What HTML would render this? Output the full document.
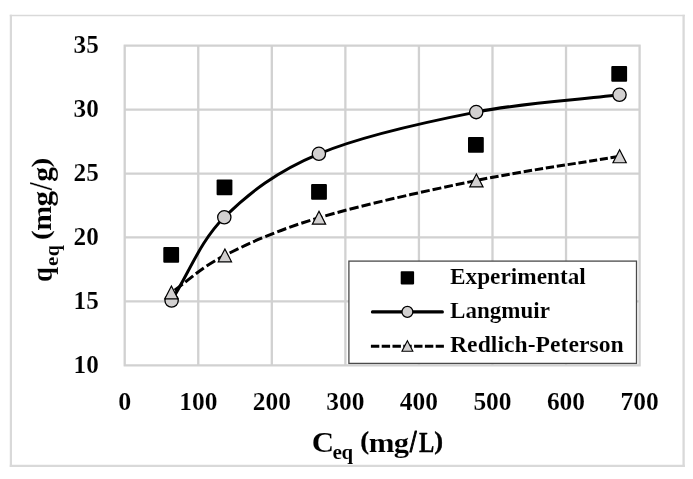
<!DOCTYPE html>
<html><head><meta charset="utf-8"><title>chart</title>
<style>html,body{margin:0;padding:0;background:#fff}svg{display:block;will-change:transform}</style></head>
<body>
<svg width="693" height="479" viewBox="0 0 693 479">
<rect x="0" y="0" width="693" height="479" fill="#fff"/>
<path d="M9.8 15.55H684.8" stroke="#d9d9d9" stroke-width="1.5" fill="none"/>
<path d="M9.8 465.9H684.8" stroke="#d9d9d9" stroke-width="2.2" fill="none"/>
<path d="M10.9 14.8V467" stroke="#d9d9d9" stroke-width="2.2" fill="none"/>
<path d="M683.6 14.8V467" stroke="#d9d9d9" stroke-width="2.3" fill="none"/>
<path d="M124.70 44.70V366.30M198.26 44.70V366.30M271.81 44.70V366.30M345.37 44.70V366.30M418.93 44.70V366.30M492.49 44.70V366.30M566.04 44.70V366.30M639.60 44.70V366.30M123.70 45.70H640.60M123.70 109.62H640.60M123.70 173.54H640.60M123.70 237.46H640.60M123.70 301.38H640.60M123.70 365.30H640.60" fill="none" stroke="#d1d1d1" stroke-width="2.3"/>
<path id="lang" d="M171.60 300.50C189.17 272.77 199.75 241.75 224.30 217.30C248.85 192.85 276.92 171.33 318.90 153.80C360.88 136.27 426.10 121.93 476.20 112.10C526.30 102.27 571.73 100.57 619.50 94.80" fill="none" stroke="#000" stroke-width="3.0" stroke-linecap="round"/>
<path id="rp" d="M171.40 292.50C189.23 280.13 200.30 267.87 224.90 255.40C249.50 242.93 277.08 230.18 319.00 217.70C360.92 205.22 426.30 190.73 476.40 180.50C526.50 170.27 571.87 164.37 619.60 156.30" fill="none" stroke="#000" stroke-width="3.0" stroke-dasharray="0 3.89 10.12 3.37 10.07 3.36 10.01 3.34 9.96 3.32 9.9 3.3 9.84 3.28 9.79 3.26 9.73 3.24 9.68 3.23 9.62 3.21 9.57 3.19 9.51 3.17 9.46 3.15 9.4 3.13 9.34 3.11 9.29 3.1 9.23 3.08 9.18 3.06 9.12 3.04 9.07 3.02 9.01 3.0 8.95 2.98 8.9 2.97 8.84 2.95 8.79 2.93 8.73 2.91 8.68 2.89 8.62 2.87 8.57 2.86 8.51 2.84 8.45 2.82 8.4 2.8 8.34 2.78 8.29 2.76 8.23 2.74 8.18 2.73 8.12 2.71 8.06 2.69 8.01 2.67 7.95 2.65 7.9 2.63 7.84 2.61 7.79 2.6"/>
<rect x="163.30" y="247.00" width="15.8" height="15.8" rx="1" fill="#000"/>
<rect x="216.60" y="179.50" width="15.8" height="15.8" rx="1" fill="#000"/>
<rect x="311.10" y="183.90" width="15.8" height="15.8" rx="1" fill="#000"/>
<rect x="468.00" y="137.00" width="15.8" height="15.8" rx="1" fill="#000"/>
<rect x="611.30" y="66.00" width="15.8" height="15.8" rx="1" fill="#000"/>
<circle cx="171.6" cy="300.5" r="6.65" fill="#d2d0d0" stroke="#000" stroke-width="1.3"/>
<circle cx="224.3" cy="217.3" r="6.65" fill="#d2d0d0" stroke="#000" stroke-width="1.3"/>
<circle cx="318.9" cy="153.8" r="6.65" fill="#d2d0d0" stroke="#000" stroke-width="1.3"/>
<circle cx="476.2" cy="112.1" r="6.65" fill="#d2d0d0" stroke="#000" stroke-width="1.3"/>
<circle cx="619.5" cy="94.8" r="6.65" fill="#d2d0d0" stroke="#000" stroke-width="1.3"/>
<path d="M171.40 286.05L178.05 298.95H164.75Z" fill="#d2d0d0" stroke="#000" stroke-width="1.2" stroke-linejoin="miter"/>
<path d="M224.90 248.95L231.55 261.85H218.25Z" fill="#d2d0d0" stroke="#000" stroke-width="1.2" stroke-linejoin="miter"/>
<path d="M319.00 211.25L325.65 224.15H312.35Z" fill="#d2d0d0" stroke="#000" stroke-width="1.2" stroke-linejoin="miter"/>
<path d="M476.40 174.05L483.05 186.95H469.75Z" fill="#d2d0d0" stroke="#000" stroke-width="1.2" stroke-linejoin="miter"/>
<path d="M619.60 149.85L626.25 162.75H612.95Z" fill="#d2d0d0" stroke="#000" stroke-width="1.2" stroke-linejoin="miter"/>
<rect x="348.9" y="261.1" width="287.6" height="102.3" fill="#fff" stroke="#4a4a4a" stroke-width="1.3"/>
<rect x="400.7" y="271.2" width="13.4" height="13.2" rx="0.8" fill="#000"/>
<path d="M372.4 311.9H442.4" stroke="#000" stroke-width="3.1" stroke-linecap="round"/>
<circle cx="407.4" cy="311.9" r="5.45" fill="#d2d0d0" stroke="#000" stroke-width="1.25"/>
<path d="M370.9 346.2H443.9" stroke="#000" stroke-width="3.0" stroke-dasharray="8.4 2.4"/>
<path d="M407.40 340.75L412.85 351.25H401.95Z" fill="#d2d0d0" stroke="#000" stroke-width="1.1" stroke-linejoin="miter"/>
<text x="450.0" y="284.0" font-size="23" text-anchor="start" textLength="135.8" lengthAdjust="spacingAndGlyphs" font-family="Liberation Serif, serif" font-weight="bold" fill="#000" stroke="#fff" stroke-width="0.12" paint-order="fill stroke" >Experimental</text>
<text x="450.0" y="318.1" font-size="23" text-anchor="start" textLength="100.0" lengthAdjust="spacingAndGlyphs" font-family="Liberation Serif, serif" font-weight="bold" fill="#000" stroke="#fff" stroke-width="0.12" paint-order="fill stroke" >Langmuir</text>
<text x="450.0" y="352.0" font-size="23" text-anchor="start" textLength="173.8" lengthAdjust="spacingAndGlyphs" font-family="Liberation Serif, serif" font-weight="bold" fill="#000" stroke="#fff" stroke-width="0.12" paint-order="fill stroke" >Redlich-Peterson</text>
<text x="73.6" y="53.1" font-size="24.4" text-anchor="start" textLength="25.2" lengthAdjust="spacingAndGlyphs" font-family="Liberation Serif, serif" font-weight="bold" fill="#000" stroke="#fff" stroke-width="0.12" paint-order="fill stroke" >35</text>
<text x="73.6" y="117.0" font-size="24.4" text-anchor="start" textLength="25.2" lengthAdjust="spacingAndGlyphs" font-family="Liberation Serif, serif" font-weight="bold" fill="#000" stroke="#fff" stroke-width="0.12" paint-order="fill stroke" >30</text>
<text x="73.6" y="180.9" font-size="24.4" text-anchor="start" textLength="25.2" lengthAdjust="spacingAndGlyphs" font-family="Liberation Serif, serif" font-weight="bold" fill="#000" stroke="#fff" stroke-width="0.12" paint-order="fill stroke" >25</text>
<text x="73.6" y="244.9" font-size="24.4" text-anchor="start" textLength="25.2" lengthAdjust="spacingAndGlyphs" font-family="Liberation Serif, serif" font-weight="bold" fill="#000" stroke="#fff" stroke-width="0.12" paint-order="fill stroke" >20</text>
<text x="73.6" y="308.8" font-size="24.4" text-anchor="start" textLength="25.2" lengthAdjust="spacingAndGlyphs" font-family="Liberation Serif, serif" font-weight="bold" fill="#000" stroke="#fff" stroke-width="0.12" paint-order="fill stroke" >15</text>
<text x="73.6" y="372.7" font-size="24.4" text-anchor="start" textLength="25.2" lengthAdjust="spacingAndGlyphs" font-family="Liberation Serif, serif" font-weight="bold" fill="#000" stroke="#fff" stroke-width="0.12" paint-order="fill stroke" >10</text>
<text x="118.2" y="409.7" font-size="24.4" text-anchor="start" textLength="13.0" lengthAdjust="spacingAndGlyphs" font-family="Liberation Serif, serif" font-weight="bold" fill="#000" stroke="#fff" stroke-width="0.12" paint-order="fill stroke" >0</text>
<text x="179.2" y="409.7" font-size="24.4" text-anchor="start" textLength="38.2" lengthAdjust="spacingAndGlyphs" font-family="Liberation Serif, serif" font-weight="bold" fill="#000" stroke="#fff" stroke-width="0.12" paint-order="fill stroke" >100</text>
<text x="252.7" y="409.7" font-size="24.4" text-anchor="start" textLength="38.2" lengthAdjust="spacingAndGlyphs" font-family="Liberation Serif, serif" font-weight="bold" fill="#000" stroke="#fff" stroke-width="0.12" paint-order="fill stroke" >200</text>
<text x="326.3" y="409.7" font-size="24.4" text-anchor="start" textLength="38.2" lengthAdjust="spacingAndGlyphs" font-family="Liberation Serif, serif" font-weight="bold" fill="#000" stroke="#fff" stroke-width="0.12" paint-order="fill stroke" >300</text>
<text x="399.8" y="409.7" font-size="24.4" text-anchor="start" textLength="38.2" lengthAdjust="spacingAndGlyphs" font-family="Liberation Serif, serif" font-weight="bold" fill="#000" stroke="#fff" stroke-width="0.12" paint-order="fill stroke" >400</text>
<text x="473.4" y="409.7" font-size="24.4" text-anchor="start" textLength="38.2" lengthAdjust="spacingAndGlyphs" font-family="Liberation Serif, serif" font-weight="bold" fill="#000" stroke="#fff" stroke-width="0.12" paint-order="fill stroke" >500</text>
<text x="546.9" y="409.7" font-size="24.4" text-anchor="start" textLength="38.2" lengthAdjust="spacingAndGlyphs" font-family="Liberation Serif, serif" font-weight="bold" fill="#000" stroke="#fff" stroke-width="0.12" paint-order="fill stroke" >600</text>
<text x="620.5" y="409.7" font-size="24.4" text-anchor="start" textLength="38.2" lengthAdjust="spacingAndGlyphs" font-family="Liberation Serif, serif" font-weight="bold" fill="#000" stroke="#fff" stroke-width="0.12" paint-order="fill stroke" >700</text>
<text transform="translate(311.69 452.00) scale(0.3098 0.3021)" x="0" y="0" font-size="100" font-family="Liberation Serif, serif" font-weight="bold" fill="#000" stroke="#fff" stroke-width="0.33" stroke-linejoin="round" paint-order="fill stroke">C</text>
<text transform="translate(332.47 458.61) scale(0.2137 0.2023)" x="0" y="0" font-size="100" font-family="Liberation Serif, serif" font-weight="bold" fill="#000" stroke="#fff" stroke-width="0.48" stroke-linejoin="round" paint-order="fill stroke">e</text>
<text transform="translate(341.44 459.15) scale(0.2095 0.2090)" x="0" y="0" font-size="100" font-family="Liberation Serif, serif" font-weight="bold" fill="#000" stroke="#fff" stroke-width="0.48" stroke-linejoin="round" paint-order="fill stroke">q</text>
<text transform="translate(360.39 448.91) scale(0.2531 0.2581)" x="0" y="0" font-size="100" font-family="Liberation Serif, serif" font-weight="bold" fill="#000" stroke="#000" stroke-width="1.57" stroke-linejoin="round" paint-order="fill stroke">(</text>
<text transform="translate(368.67 451.70) scale(0.3092 0.2823)" x="0" y="0" font-size="100" font-family="Liberation Serif, serif" font-weight="bold" fill="#000" stroke="#fff" stroke-width="0.34" stroke-linejoin="round" paint-order="fill stroke">m</text>
<text transform="translate(393.79 452.39) scale(0.3061 0.2725)" x="0" y="0" font-size="100" font-family="Liberation Serif, serif" font-weight="bold" fill="#000" stroke="#fff" stroke-width="0.35" stroke-linejoin="round" paint-order="fill stroke">g</text>
<text transform="translate(409.93 451.70) scale(0.2317 0.3097)" x="0" y="0" font-size="100" font-family="Liberation Serif, serif" font-weight="bold" fill="#000" stroke="#000" stroke-width="3.73" stroke-linejoin="round" paint-order="fill stroke">/</text>
<text transform="translate(418.96 451.55) scale(0.2287 0.2948)" x="0" y="0" font-size="100" font-family="Liberation Serif, serif" font-weight="bold" fill="#000" stroke="#000" stroke-width="1.16" stroke-linejoin="round" paint-order="fill stroke">L</text>
<text transform="translate(434.35 448.91) scale(0.2648 0.2581)" x="0" y="0" font-size="100" font-family="Liberation Serif, serif" font-weight="bold" fill="#000" stroke="#000" stroke-width="1.53" stroke-linejoin="round" paint-order="fill stroke">)</text>
<text transform="translate(52.13 281.90) rotate(-90) scale(0.2688 0.3041)" x="0" y="0" font-size="100" font-family="Liberation Serif, serif" font-weight="bold" fill="#000" stroke="#fff" stroke-width="0.35" stroke-linejoin="round" paint-order="fill stroke">q</text>
<text transform="translate(58.57 256.34) rotate(-90) scale(0.2036 0.2032)" x="0" y="0" font-size="100" font-family="Liberation Serif, serif" font-weight="bold" fill="#000" stroke="#fff" stroke-width="0.49" stroke-linejoin="round" paint-order="fill stroke">q</text>
<text transform="translate(58.02 266.11) rotate(-90) scale(0.2084 0.1960)" x="0" y="0" font-size="100" font-family="Liberation Serif, serif" font-weight="bold" fill="#000" stroke="#fff" stroke-width="0.49" stroke-linejoin="round" paint-order="fill stroke">e</text>
<text transform="translate(48.68 239.98) rotate(-90) scale(0.2920 0.2592)" x="0" y="0" font-size="100" font-family="Liberation Serif, serif" font-weight="bold" fill="#000" stroke="#fff" stroke-width="0.18" stroke-linejoin="round" paint-order="fill stroke">(</text>
<text transform="translate(50.60 230.81) rotate(-90) scale(0.3004 0.2780)" x="0" y="0" font-size="100" font-family="Liberation Serif, serif" font-weight="bold" fill="#000" stroke="#fff" stroke-width="0.35" stroke-linejoin="round" paint-order="fill stroke">m</text>
<text transform="translate(52.49 206.42) rotate(-90) scale(0.3104 0.2902)" x="0" y="0" font-size="100" font-family="Liberation Serif, serif" font-weight="bold" fill="#000" stroke="#fff" stroke-width="0.33" stroke-linejoin="round" paint-order="fill stroke">g</text>
<text transform="translate(52.27 190.32) rotate(-90) scale(0.2887 0.3351)" x="0" y="0" font-size="100" font-family="Liberation Serif, serif" font-weight="bold" fill="#000" stroke="#fff" stroke-width="0.64" stroke-linejoin="round" paint-order="fill stroke">/</text>
<text transform="translate(52.49 181.68) rotate(-90) scale(0.2975 0.2902)" x="0" y="0" font-size="100" font-family="Liberation Serif, serif" font-weight="bold" fill="#000" stroke="#fff" stroke-width="0.34" stroke-linejoin="round" paint-order="fill stroke">g</text>
<text transform="translate(48.76 167.44) rotate(-90) scale(0.2920 0.2603)" x="0" y="0" font-size="100" font-family="Liberation Serif, serif" font-weight="bold" fill="#000" stroke="#fff" stroke-width="0.18" stroke-linejoin="round" paint-order="fill stroke">)</text>
</svg>
</body></html>
